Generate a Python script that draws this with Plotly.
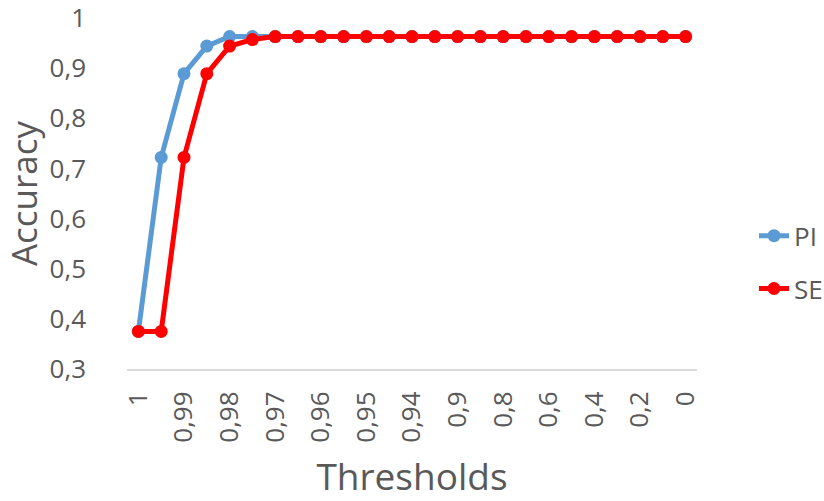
import plotly.graph_objects as go

# Threshold categories (decimal comma labels), 25 points
thresholds = ["1", "0,995", "0,99", "0,985", "0,98", "0,975", "0,97", "0,965",
              "0,96", "0,955", "0,95", "0,945", "0,94", "0,92", "0,9", "0,85",
              "0,8", "0,7", "0,6", "0,5", "0,4", "0,3", "0,2", "0,1", "0"]

acc_pi = [0.375, 0.722, 0.889, 0.944, 0.963, 0.963, 0.963, 0.963, 0.963,
          0.963, 0.963, 0.963, 0.963, 0.963, 0.963, 0.963, 0.963, 0.963,
          0.963, 0.963, 0.963, 0.963, 0.963, 0.963, 0.963]

acc_se = [0.375, 0.375, 0.722, 0.889, 0.944, 0.957, 0.963, 0.963, 0.963,
          0.963, 0.963, 0.963, 0.963, 0.963, 0.963, 0.963, 0.963, 0.963,
          0.963, 0.963, 0.963, 0.963, 0.963, 0.963, 0.963]

shown_ticks = thresholds[::2]
y_ticks = [0.3, 0.4, 0.5, 0.6, 0.7, 0.8, 0.9, 1.0]

FONT = "Open Sans"
GREY = "#595959"

# plot area: 127..697 px horizontally inside a 824 px canvas
M_L, M_R = 127, 40
AREA_W = 824 - M_L - M_R
PLOT_W = 570

fig = go.Figure()
fig.add_trace(go.Scatter(
    x=thresholds, y=acc_pi, name="PI", mode="lines+markers",
    legendgroup="pi",
    line=dict(color="#5B9BD5", width=5),
    marker=dict(color="#5B9BD5", size=13),
))
fig.add_trace(go.Scatter(
    x=thresholds, y=acc_se, name="SE", mode="lines+markers",
    legendgroup="se",
    line=dict(color="#FF0000", width=5),
    marker=dict(color="#FF0000", size=13),
))

fig.update_layout(
    width=824, height=501,
    margin=dict(l=M_L, r=M_R, t=18, b=132, autoexpand=False),
    paper_bgcolor="white", plot_bgcolor="white",
    separators=", ",
    font=dict(family=FONT, color=GREY),
    showlegend=True,
    legend=dict(
        x=(754 - M_L) / AREA_W, y=0.304, xanchor="left", yanchor="middle",
        font=dict(family=FONT, size=26, color=GREY),
        traceorder="grouped", tracegroupgap=16,
        bgcolor="rgba(0,0,0,0)",
    ),
    xaxis=dict(
        domain=[0, PLOT_W / AREA_W],
        type="category",
        categoryorder="array", categoryarray=thresholds,
        range=[-0.5, len(thresholds) - 0.5],
        tickmode="array", tickvals=shown_ticks, ticktext=shown_ticks,
        tickangle=-90,
        tickfont=dict(family=FONT, size=26, color=GREY),
        ticklabelstandoff=10,
        showgrid=False, zeroline=False,
        showline=True, linecolor="#D9D9D9", linewidth=2,
        ticks="", automargin=False,
        title=dict(text="Thresholds", font=dict(family=FONT, size=37, color=GREY),
                   standoff=30),
    ),
    yaxis=dict(
        range=[0.3, 1.0],
        tickmode="array", tickvals=y_ticks,
        tickformat=".1~f",
        tickfont=dict(family=FONT, size=26, color=GREY),
        ticklabelstandoff=40,
        ticklabeloverflow="allow",
        showgrid=False, zeroline=False, showline=False,
        ticks="", automargin=False,
        title=dict(text="Accuracy", font=dict(family=FONT, size=35, color=GREY),
                   standoff=4),
    ),
)

fig.write_html("out.html")
